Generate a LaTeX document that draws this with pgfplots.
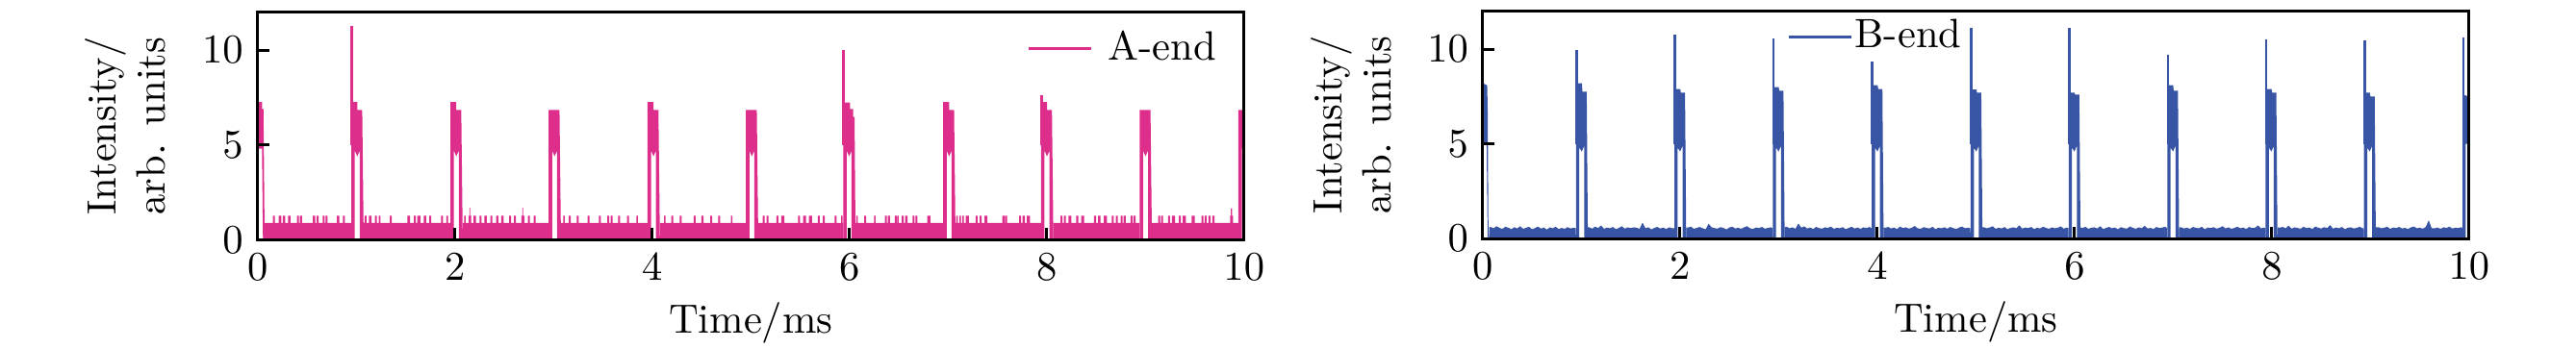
\documentclass[border=0pt]{standalone}
\usepackage{pgfplots}
\pgfplotsset{compat=1.18}
\definecolor{pinkc}{RGB}{222,46,140}
\definecolor{bluec}{RGB}{56,84,164}
\pgfplotsset{
  myaxis/.style={
    scale only axis, width=240.9pt, height=55.6pt,
    xmin=0, xmax=10, ymin=0, ymax=12,
    xtick={0,2,4,6,8,10}, ytick={0,5,10},
    tick pos=left, tick align=inside,
    major tick length=2.9pt,
    every tick/.style={black, line width=0.7pt},
    axis line style={line width=0.7pt},
    xlabel={Time/ms},
    ylabel={Intensity/\\arb. units},
    ylabel style={align=center},
    ylabel shift=2pt,
    xlabel shift=-1.5pt,
    axis on top,
    legend image code/.code={\draw[#1,line width=0.7pt] (0pt,0pt) -- (15.3pt,0pt);},
    legend style={draw=none, fill=none, inner sep=0pt, outer sep=0pt, anchor=west,
      nodes={inner sep=0pt, text depth=0.15em}},
  }
}
\begin{document}
\begin{tikzpicture}
\useasboundingbox (-62.9pt,-26.5pt) rectangle (566.2pt,58.6pt);
% ---------------- A-end ----------------
\begin{axis}[myaxis, legend style={at={(0.780,0.84)}, column sep=3.8pt}]
\addlegendimage{pinkc}
\addlegendentry{A-end}
% baseline band
\addplot[const plot, fill=pinkc, draw=none, forget plot] coordinates {
(0,0) (0.072,0.89)
(0.155,1.27)(0.175,0.89)(0.215,1.27)(0.24,0.89)(0.255,1.27)(0.28,0.89)(0.31,1.27)(0.335,0.89)(0.40,1.27)(0.42,0.89)(0.43,1.27)(0.45,0.89)(0.56,1.27)(0.585,0.89)(0.60,1.27)(0.62,0.89)(0.66,1.27)(0.68,0.89)(0.69,1.27)(0.71,0.89)(0.805,1.27)(0.83,0.89)(0.865,1.27)(0.885,0.89)
(0.951,0)(1.076,0.89)
(1.085,1.27)(1.105,0.89)(1.13,1.27)(1.155,0.89)(1.19,1.27)(1.21,0.89)(1.23,1.27)(1.245,0.89)(1.34,1.27)(1.36,0.89)(1.52,1.27)(1.545,0.89)(1.585,1.27)(1.605,0.89)(1.62,1.27)(1.65,0.89)(1.685,1.27)(1.71,0.89)(1.74,1.27)(1.76,0.89)(1.86,1.27)(1.88,0.89)(1.915,1.27)(1.93,0.89)
(1.955,0)(2.08,0.89)
(2.095,1.27)(2.11,0.89)(2.14,1.27)(2.148,1.69)(2.156,1.27)(2.165,0.89)(2.19,1.27)(2.215,0.89)(2.25,1.27)(2.27,0.89)(2.30,1.27)(2.325,0.89)(2.36,1.27)(2.38,0.89)(2.42,1.27)(2.44,0.89)(2.47,1.27)(2.495,0.89)(2.55,1.27)(2.57,0.89)(2.60,1.27)(2.62,0.89)(2.675,1.27)(2.685,1.69)(2.693,1.27)(2.705,0.89)(2.74,1.27)(2.76,0.89)(2.80,1.27)(2.82,0.89)
(2.951,0)(3.076,0.89)
(3.10,1.27)(3.115,0.89)(3.155,1.27)(3.175,0.89)(3.235,1.27)(3.255,0.89)(3.345,1.27)(3.365,0.89)(3.46,1.27)(3.48,0.89)(3.545,1.27)(3.565,0.89)(3.58,1.27)(3.60,0.89)(3.655,1.27)(3.675,0.89)(3.745,1.27)(3.765,0.89)(3.84,1.27)(3.855,0.89)
(3.954,0)(4.079,0.89)
(4.12,1.27)(4.135,0.89)(4.195,1.27)(4.215,0.89)(4.28,1.27)(4.30,0.89)(4.42,1.27)(4.44,0.89)(4.50,1.27)(4.52,0.89)(4.59,1.27)(4.61,0.89)(4.67,1.27)(4.69,0.89)(4.80,1.27)(4.815,0.89)
(4.951,0)(5.076,0.89)
(5.12,1.27)(5.14,0.89)(5.16,1.27)(5.18,0.89)(5.26,1.27)(5.28,0.89)(5.31,1.27)(5.34,0.89)(5.48,1.27)(5.50,0.89)(5.53,1.27)(5.56,0.89)(5.59,1.27)(5.62,0.89)(5.68,1.27)(5.70,0.89)(5.73,1.27)(5.75,0.89)(5.85,1.27)(5.87,0.89)(5.915,1.27)(5.93,0.89)
(5.937,0)(6.062,0.89)
(6.07,1.27)(6.085,0.89)(6.15,1.27)(6.17,0.89)(6.25,1.27)(6.265,0.89)(6.36,1.27)(6.38,0.89)(6.39,1.27)(6.41,0.89)(6.46,1.27)(6.48,0.89)(6.485,1.27)(6.50,0.89)(6.53,1.27)(6.55,0.89)(6.565,1.27)(6.59,0.89)(6.64,1.27)(6.66,0.89)(6.67,1.27)(6.69,0.89)(6.79,1.27)(6.82,0.89)
(6.951,0)(7.076,0.89)
(7.085,1.27)(7.10,0.89)(7.115,1.27)(7.13,0.89)(7.145,1.27)(7.16,0.89)(7.18,1.27)(7.21,0.89)(7.28,1.27)(7.30,0.89)(7.32,1.27)(7.34,0.89)(7.37,1.27)(7.40,0.89)(7.55,1.27)(7.575,0.89)(7.58,1.27)(7.60,0.89)(7.72,1.27)(7.74,0.89)(7.755,1.27)(7.78,0.89)(7.80,1.27)(7.83,0.89)
(7.943,0)(8.068,0.89)
(8.14,1.27)(8.16,0.89)(8.175,1.27)(8.195,0.89)(8.22,1.27)(8.25,0.89)(8.30,1.27)(8.32,0.89)(8.35,1.27)(8.38,0.89)(8.48,1.27)(8.50,0.89)(8.52,1.27)(8.545,0.89)(8.58,1.27)(8.61,0.89)(8.66,1.27)(8.68,0.89)(8.70,1.27)(8.72,0.89)(8.75,1.27)(8.77,0.89)(8.78,1.27)(8.80,0.89)(8.85,1.27)(8.87,0.89)(8.88,1.27)(8.90,0.89)
(8.942,0)(9.067,0.89)
(9.13,1.27)(9.15,0.89)(9.16,1.27)(9.18,0.89)(9.23,1.27)(9.25,0.89)(9.27,1.27)(9.30,0.89)(9.34,1.27)(9.36,0.89)(9.38,1.27)(9.41,0.89)(9.47,1.27)(9.50,0.89)(9.57,1.27)(9.59,0.89)(9.60,1.27)(9.62,0.89)(9.64,1.27)(9.66,0.89)(9.68,1.27)(9.70,0.89)(9.86,1.27)(9.868,1.65)(9.878,1.27)(9.89,0.89)
(9.943,0)(10,0)
} \closedcycle;
% pulse at 0
\addplot[fill=pinkc, draw=none, forget plot] coordinates {
(0,4.8)(0,7.27)(0.045,7.27)(0.045,6.9)(0.06,6.9)(0.072,0)(0.055,0)(0.045,4.8)
} -- cycle;
% pulses
\addplot[fill=pinkc, draw=none, forget plot] coordinates {
(0.951,0)(0.951,7.27)(1.011,7.27)(1.011,6.85)(1.061,6.85)(1.076,0)(1.036,0)(1.036,4.7)(1.011,4.4)(0.986,4.7)(0.986,0)
(1.955,0)(1.955,7.27)(2.015,7.27)(2.015,6.85)(2.065,6.85)(2.08,0)(2.04,0)(2.04,4.7)(2.015,4.4)(1.99,4.7)(1.99,0)
(2.951,0)(2.951,6.85)(3.061,6.85)(3.076,0)(3.036,0)(3.036,4.7)(3.011,4.4)(2.986,4.7)(2.986,0)
(3.954,0)(3.954,7.27)(4.014,7.27)(4.014,6.85)(4.064,6.85)(4.079,0)(4.039,0)(4.039,4.7)(4.014,4.4)(3.989,4.7)(3.989,0)
(4.951,0)(4.951,6.85)(5.061,6.85)(5.076,0)(5.036,0)(5.036,4.7)(5.011,4.4)(4.986,4.7)(4.986,0)
(5.937,0)(5.937,7.24)(6.007,7.24)(6.007,6.9)(6.037,6.9)(6.037,6.48)(6.052,6.48)(6.062,0)(6.022,0)(6.022,4.7)(5.997,4.4)(5.972,4.7)(5.972,0)
(6.951,0)(6.951,7.27)(7.011,7.27)(7.011,6.85)(7.061,6.85)(7.076,0)(7.036,0)(7.036,4.7)(7.011,4.4)(6.986,4.7)(6.986,0)
(7.943,0)(7.943,7.27)(8.003,7.27)(8.003,6.85)(8.053,6.85)(8.068,0)(8.028,0)(8.028,4.7)(8.003,4.4)(7.978,4.7)(7.978,0)
(8.942,0)(8.942,6.85)(9.052,6.85)(9.067,0)(9.027,0)(9.027,4.7)(9.002,4.4)(8.977,4.7)(8.977,0)
(9.943,0)(9.943,6.85)(10,6.85)(10,4.8)(9.978,4.8)(9.978,0)
} -- cycle;
% spikes
\addplot[pinkc, line width=0.6pt, forget plot] coordinates {(0.955,5)(0.955,11.27)};
\addplot[pinkc, line width=0.6pt, forget plot] coordinates {(5.941,5)(5.941,10.03)};
\addplot[pinkc, line width=0.6pt, forget plot] coordinates {(7.947,5)(7.947,7.65)};
\end{axis}
% ---------------- B-end ----------------
\begin{axis}[myaxis, at={(299.2pt,0.25pt)}, legend style={at={(0.309,0.888)}, column sep=0.5pt}]
\addlegendimage{bluec}
\addlegendentry{B-end}
% baseline band
\addplot[fill=bluec, draw=none, forget plot] coordinates {
(0.065,0)(0.065,0.6)
(0.08,0.62)(0.11,0.55)(0.14,0.66)(0.17,0.57)(0.20,0.52)(0.23,0.63)(0.26,0.58)(0.29,0.50)(0.32,0.61)(0.35,0.54)(0.38,0.66)(0.41,0.52)(0.44,0.58)(0.47,0.63)(0.50,0.50)(0.53,0.56)(0.56,0.64)(0.59,0.53)(0.62,0.59)(0.65,0.48)(0.68,0.60)(0.71,0.55)(0.74,0.63)(0.77,0.51)(0.80,0.57)(0.83,0.52)(0.86,0.61)(0.89,0.54)(0.92,0.58)
(0.944,0.55)(0.946,0)(1.066,0)(1.066,0.6)
(1.08,0.60)(1.11,0.53)(1.14,0.64)(1.17,0.56)(1.20,0.70)(1.23,0.52)(1.26,0.59)(1.29,0.55)(1.32,0.62)(1.35,0.50)(1.38,0.57)(1.41,0.66)(1.44,0.53)(1.47,0.60)(1.50,0.56)(1.53,0.60)(1.56,0.58)(1.59,0.52)(1.62,0.85)(1.65,0.55)(1.68,0.60)(1.71,0.49)(1.74,0.57)(1.77,0.62)(1.80,0.54)(1.83,0.59)(1.86,0.51)(1.89,0.60)(1.92,0.55)
(1.941,0.55)(1.943,0)(2.063,0)(2.063,0.6)
(2.08,0.58)(2.11,0.64)(2.14,0.52)(2.17,0.57)(2.20,0.62)(2.23,0.55)(2.26,0.50)(2.29,0.79)(2.32,0.60)(2.35,0.56)(2.38,0.53)(2.41,0.61)(2.44,0.57)(2.47,0.49)(2.50,0.59)(2.53,0.63)(2.56,0.54)(2.59,0.58)(2.62,0.52)(2.65,0.60)(2.68,0.66)(2.71,0.55)(2.74,0.51)(2.77,0.59)(2.80,0.56)(2.83,0.62)(2.86,0.53)(2.89,0.57)(2.92,0.60)
(2.939,0.55)(2.941,0)(3.061,0)(3.061,0.6)
(3.08,0.63)(3.11,0.55)(3.14,0.60)(3.17,0.52)(3.20,0.80)(3.23,0.58)(3.26,0.65)(3.29,0.54)(3.32,0.59)(3.35,0.51)(3.38,0.62)(3.41,0.56)(3.44,0.53)(3.47,0.60)(3.50,0.57)(3.53,0.64)(3.56,0.52)(3.59,0.58)(3.62,0.55)(3.65,0.61)(3.68,0.50)(3.71,0.57)(3.74,0.63)(3.77,0.54)(3.80,0.59)(3.83,0.52)(3.86,0.60)(3.89,0.56)(3.92,0.62)
(3.942,0.55)(3.944,0)(4.064,0)(4.064,0.6)
(4.08,0.57)(4.11,0.62)(4.14,0.54)(4.17,0.59)(4.20,0.51)(4.23,0.64)(4.26,0.56)(4.29,0.60)(4.32,0.53)(4.35,0.58)(4.38,0.67)(4.41,0.55)(4.44,0.52)(4.47,0.61)(4.50,0.57)(4.53,0.54)(4.56,0.63)(4.59,0.50)(4.62,0.58)(4.65,0.55)(4.68,0.60)(4.71,0.53)(4.74,0.62)(4.77,0.56)(4.80,0.51)(4.83,0.59)(4.86,0.64)(4.89,0.55)(4.92,0.58)
(4.944,0.55)(4.946,0)(5.066,0)(5.066,0.6)
(5.08,0.61)(5.11,0.55)(5.14,0.59)(5.17,0.66)(5.20,0.52)(5.23,0.58)(5.26,0.54)(5.29,0.62)(5.32,0.50)(5.35,0.57)(5.38,0.60)(5.41,0.55)(5.44,0.71)(5.47,0.53)(5.50,0.59)(5.53,0.56)(5.56,0.62)(5.59,0.51)(5.62,0.58)(5.65,0.54)(5.68,0.63)(5.71,0.57)(5.74,0.52)(5.77,0.60)(5.80,0.55)(5.83,0.58)(5.86,0.65)(5.89,0.53)(5.92,0.59)
(5.938,0.55)(5.94,0)(6.06,0)(6.06,0.6)
(6.08,0.56)(6.11,0.63)(6.14,0.52)(6.17,0.58)(6.20,0.60)(6.23,0.54)(6.26,0.66)(6.29,0.51)(6.32,0.57)(6.35,0.62)(6.38,0.55)(6.41,0.59)(6.44,0.50)(6.47,0.61)(6.50,0.56)(6.53,0.53)(6.56,0.64)(6.59,0.58)(6.62,0.52)(6.65,0.60)(6.68,0.55)(6.71,0.68)(6.74,0.54)(6.77,0.57)(6.80,0.51)(6.83,0.62)(6.86,0.56)(6.89,0.59)(6.92,0.63)
(6.938,0.55)(6.94,0)(7.06,0)(7.06,0.6)
(7.08,0.60)(7.11,0.54)(7.14,0.58)(7.17,0.52)(7.20,0.62)(7.23,0.57)(7.26,0.55)(7.29,0.63)(7.32,0.50)(7.35,0.59)(7.38,0.56)(7.41,0.61)(7.44,0.53)(7.47,0.58)(7.50,0.66)(7.53,0.54)(7.56,0.60)(7.59,0.52)(7.62,0.57)(7.65,0.63)(7.68,0.55)(7.71,0.59)(7.74,0.51)(7.77,0.62)(7.80,0.56)(7.83,0.58)(7.86,0.70)(7.89,0.54)(7.92,0.59)
(7.935,0.55)(7.937,0)(8.057,0)(8.057,0.6)
(8.08,0.58)(8.11,0.62)(8.14,0.55)(8.17,0.69)(8.20,0.53)(8.23,0.60)(8.26,0.57)(8.29,0.52)(8.32,0.63)(8.35,0.56)(8.38,0.59)(8.41,0.51)(8.44,0.64)(8.47,0.58)(8.50,0.54)(8.53,0.61)(8.56,0.56)(8.59,0.72)(8.62,0.53)(8.65,0.59)(8.68,0.55)(8.71,0.62)(8.74,0.50)(8.77,0.58)(8.80,0.60)(8.83,0.54)(8.86,0.57)(8.89,0.63)(8.92,0.55)
(8.932,0.55)(8.934,0)(9.054,0)(9.054,0.6)
(9.08,0.61)(9.11,0.55)(9.14,0.58)(9.17,0.63)(9.20,0.52)(9.23,0.59)(9.26,0.56)(9.29,0.62)(9.32,0.54)(9.35,0.57)(9.38,0.51)(9.41,0.60)(9.44,0.64)(9.47,0.55)(9.50,0.58)(9.53,0.53)(9.56,0.62)(9.59,0.97)(9.62,0.56)(9.65,0.55)(9.68,0.59)(9.71,0.52)(9.74,0.60)(9.77,0.57)(9.80,0.63)(9.83,0.54)(9.86,0.58)(9.89,0.56)(9.92,0.61)
(9.932,0.55)(9.934,0)
} -- cycle;
% pulse at 0
\addplot[fill=bluec, draw=none, forget plot] coordinates {
(0,5.0)(0,8.2)(0.045,8.1)(0.05,7.0)(0.058,0.6)(0.065,0)(0.05,0)(0.04,5.0)
} -- cycle;
% pulses
\addplot[fill=bluec, draw=none, forget plot] coordinates {
(0.946,0)(0.946,8.2)(1.006,8.2)(1.011,7.75)(1.054,7.75)(1.066,0)(1.029,0)(1.029,4.9)(1.004,4.6)(0.979,4.8)(0.979,0)
(1.943,0)(1.943,7.9)(2.003,7.9)(2.008,7.7)(2.051,7.7)(2.063,0)(2.026,0)(2.026,4.9)(2.001,4.6)(1.976,4.8)(1.976,0)
(2.941,0)(2.941,8.0)(3.001,8.0)(3.006,7.8)(3.049,7.8)(3.061,0)(3.024,0)(3.024,4.9)(2.999,4.6)(2.974,4.8)(2.974,0)
(3.944,0)(3.944,8.1)(4.004,8.1)(4.009,7.9)(4.052,7.9)(4.064,0)(4.027,0)(4.027,4.9)(4.002,4.6)(3.977,4.8)(3.977,0)
(4.946,0)(4.946,7.87)(5.006,7.87)(5.011,7.7)(5.054,7.7)(5.066,0)(5.029,0)(5.029,4.9)(5.004,4.6)(4.979,4.8)(4.979,0)
(5.94,0)(5.94,7.7)(6.0,7.7)(6.005,7.6)(6.048,7.6)(6.06,0)(6.023,0)(6.023,4.9)(5.998,4.6)(5.973,4.8)(5.973,0)
(6.94,0)(6.94,8.1)(7.0,8.1)(7.005,7.8)(7.048,7.8)(7.06,0)(7.023,0)(7.023,4.9)(6.998,4.6)(6.973,4.8)(6.973,0)
(7.937,0)(7.937,7.9)(7.997,7.9)(8.002,7.7)(8.045,7.7)(8.057,0)(8.02,0)(8.02,4.9)(7.995,4.6)(7.97,4.8)(7.97,0)
(8.934,0)(8.934,7.7)(8.994,7.7)(8.999,7.5)(9.042,7.5)(9.054,0)(9.017,0)(9.017,4.9)(8.992,4.6)(8.967,4.8)(8.967,0)
(9.934,0)(9.934,7.6)(10,7.5)(10,5.0)(9.965,5.0)(9.965,0)
} -- cycle;
% spikes
\addplot[bluec, line width=0.6pt, forget plot] coordinates {(0.952,5)(0.952,9.98)};
\addplot[bluec, line width=0.6pt, forget plot] coordinates {(1.949,5)(1.949,10.79)};
\addplot[bluec, line width=0.6pt, forget plot] coordinates {(2.947,5)(2.947,10.57)};
\addplot[bluec, line width=0.6pt, forget plot] coordinates {(3.950,5)(3.950,9.36)};
\addplot[bluec, line width=0.6pt, forget plot] coordinates {(4.952,5)(4.952,11.1)};
\addplot[bluec, line width=0.6pt, forget plot] coordinates {(5.946,5)(5.946,11.1)};
\addplot[bluec, line width=0.6pt, forget plot] coordinates {(6.946,5)(6.946,9.7)};
\addplot[bluec, line width=0.6pt, forget plot] coordinates {(7.943,5)(7.943,10.5)};
\addplot[bluec, line width=0.6pt, forget plot] coordinates {(8.940,5)(8.940,10.44)};
\addplot[bluec, line width=0.6pt, forget plot] coordinates {(9.940,5)(9.940,10.6)};
\end{axis}
\end{tikzpicture}
\end{document}
